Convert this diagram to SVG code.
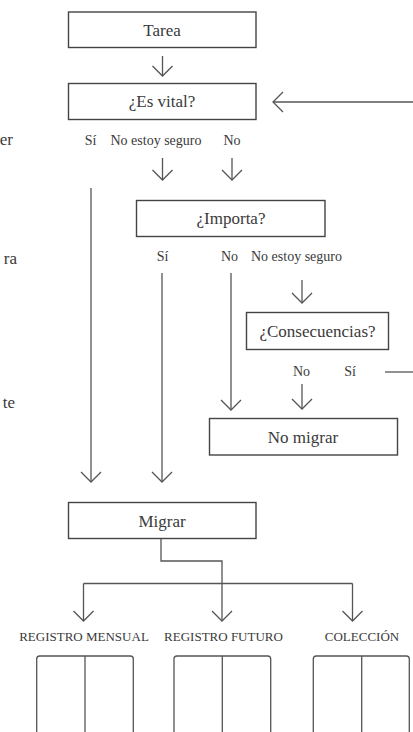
<svg xmlns="http://www.w3.org/2000/svg" width="413" height="732" viewBox="0 0 413 732">
<defs>
<style>
.box{fill:#fff;stroke:#444;stroke-width:1.4}
.ln{fill:none;stroke:#555;stroke-width:1.3}
.t{font-family:"Liberation Serif","Times New Roman",serif;fill:#3a3a3a;text-anchor:middle}
.n{font-size:17px}
.l{font-size:14px}
.c{font-size:13px}
.side{font-family:"Liberation Serif","Times New Roman",serif;fill:#3a3a3a;font-size:17px;text-anchor:end}
</style>
<marker id="ah" viewBox="-11 -11 22 22" refX="0" refY="0" markerWidth="22" markerHeight="22" markerUnits="userSpaceOnUse" orient="auto">
<path d="M-10,-10 L0,0 L-10,10" fill="none" stroke="#555" stroke-width="1.3"/>
</marker>
</defs>
<rect width="413" height="732" fill="#fff"/>

<g id="side-text">
<text class="side" x="13" y="145">er</text>
<text class="side" x="17" y="264">ra</text>
<text class="side" x="15" y="408">te</text>
</g>

<g id="connectors">
<path class="ln" d="M162.5,56 V76" marker-end="url(#ah)"/>
<path class="ln" d="M413,102 H273" marker-end="url(#ah)"/>
<path class="ln" d="M91,188 V482" marker-end="url(#ah)"/>
<path class="ln" d="M162.5,158 V180" marker-end="url(#ah)"/>
<path class="ln" d="M232,158 V180" marker-end="url(#ah)"/>
<path class="ln" d="M162,273 V482" marker-end="url(#ah)"/>
<path class="ln" d="M231,273 V410" marker-end="url(#ah)"/>
<path class="ln" d="M302,280 V303" marker-end="url(#ah)"/>
<path class="ln" d="M385,372 H413"/>
<path class="ln" d="M302,384 V409" marker-end="url(#ah)"/>
<path class="ln" d="M161,538.5 V561 H222 V621" marker-end="url(#ah)"/>
<path class="ln" d="M83.5,583.5 H352.5"/>
<path class="ln" d="M83.5,583.5 V621" marker-end="url(#ah)"/>
<path class="ln" d="M352.5,583.5 V621" marker-end="url(#ah)"/>
</g>

<g id="labels">
<text class="t l" x="90.5" y="145">Sí</text>
<text class="t l" x="156" y="145">No estoy seguro</text>
<text class="t l" x="232" y="145">No</text>
<text class="t l" x="162.5" y="261">Sí</text>
<text class="t l" x="229.5" y="261">No</text>
<text class="t l" x="296.5" y="261">No estoy seguro</text>
<text class="t l" x="301.5" y="376">No</text>
<text class="t l" x="350" y="376">Sí</text>
</g>

<g id="tarea">
<rect class="box" x="68.5" y="12" width="187.5" height="35.5"/>
<text class="t n" x="162" y="35.5">Tarea</text>
</g>
<g id="es-vital">
<rect class="box" x="68.5" y="83.5" width="187.5" height="36"/>
<text class="t n" x="162" y="107">¿Es vital?</text>
</g>
<g id="importa">
<rect class="box" x="136.5" y="200.5" width="188.5" height="36"/>
<text class="t n" x="231" y="224">¿Importa?</text>
</g>
<g id="consecuencias">
<rect class="box" x="246.5" y="312.5" width="142" height="37"/>
<text class="t n" x="317.5" y="337">¿Consecuencias?</text>
</g>
<g id="no-migrar">
<rect class="box" x="209.5" y="418.5" width="188" height="36.5"/>
<text class="t n" x="303" y="443">No migrar</text>
</g>
<g id="migrar">
<rect class="box" x="68.5" y="502.5" width="187.5" height="36"/>
<text class="t n" x="162" y="527">Migrar</text>
</g>

<g id="registro-mensual">
<text class="t c" x="84" y="641">REGISTRO MENSUAL</text>
<path class="ln" d="M36.7,740 V659 Q36.7,656 39.7,656 H130.3 Q133.3,656 133.3,659 V740"/>
<path class="ln" d="M85,656 V740"/>
</g>
<g id="registro-futuro">
<text class="t c" x="223.5" y="641">REGISTRO FUTURO</text>
<path class="ln" d="M174,740 V659 Q174,656 177,656 H267.7 Q270.7,656 270.7,659 V740"/>
<path class="ln" d="M222.3,656 V740"/>
</g>
<g id="coleccion">
<text class="t c" x="362" y="641">COLECCIÓN</text>
<path class="ln" d="M313.3,740 V659 Q313.3,656 316.3,656 H406.3 Q409.3,656 409.3,659 V740"/>
<path class="ln" d="M361.7,656 V740"/>
</g>
</svg>
